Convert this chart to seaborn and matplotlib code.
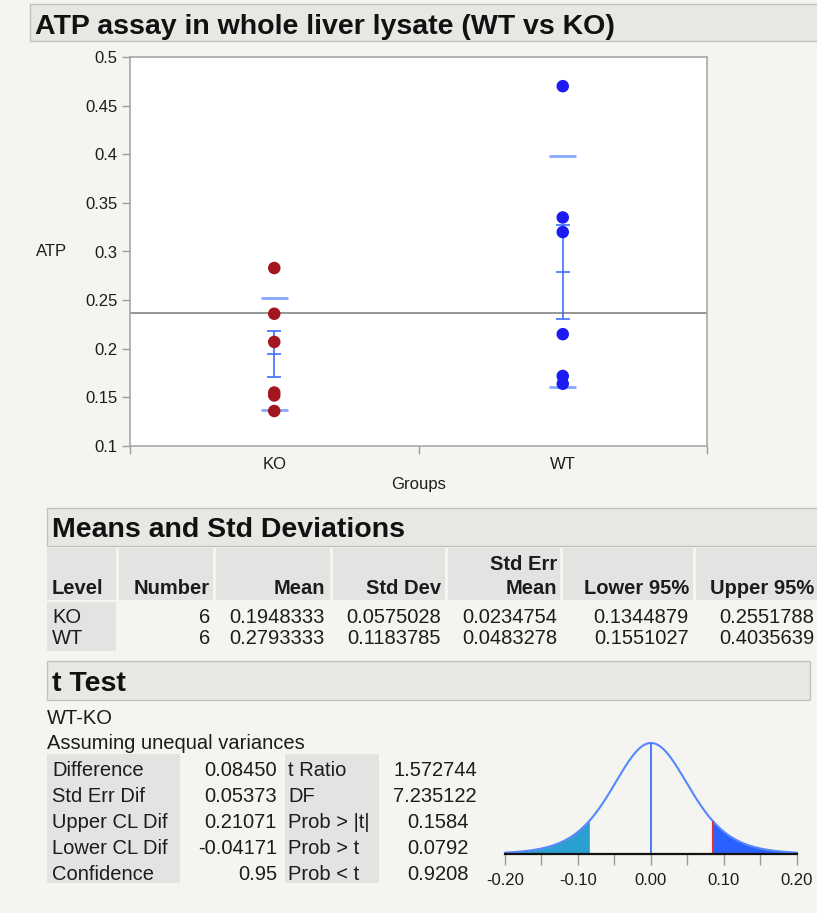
import math
import numpy as np
import pandas as pd
import matplotlib
matplotlib.use("Agg")
import matplotlib.pyplot as plt
from matplotlib.patches import Rectangle
from matplotlib.ticker import FixedLocator, NullFormatter
import seaborn as sns

# ---- data -------------------------------------------------------------
groups = ["KO", "WT"]
ko_atp = [0.283, 0.236, 0.207, 0.155, 0.152, 0.136]
wt_atp = [0.470, 0.335, 0.320, 0.215, 0.172, 0.164]

# summary table (Means and Std Deviations)
n_obs = [6, 6]
mean_vals = [0.1948333, 0.2793333]
sd_vals = [0.0575028, 0.1183785]
se_vals = [0.0234754, 0.0483278]
lower95 = [0.1344879, 0.1551027]
upper95 = [0.2551788, 0.4035639]

# t test (WT-KO, unequal variances)
tt_left_labels = ["Difference", "Std Err Dif", "Upper CL Dif", "Lower CL Dif", "Confidence"]
tt_left_values = ["0.08450", "0.05373", "0.21071", "-0.04171", "0.95"]
tt_right_labels = ["t Ratio", "DF", "Prob > |t|", "Prob > t", "Prob < t"]
tt_right_values = ["1.572744", "7.235122", "0.1584", "0.0792", "0.9208"]
diff_est = 0.08450
diff_se = 0.05373
t_df = 7.235122

yticks = [0.1, 0.15, 0.2, 0.25, 0.3, 0.35, 0.4, 0.45, 0.5]
dist_ticks_major = [-0.20, -0.10, 0.00, 0.10, 0.20]
dist_ticks_minor = [-0.15, -0.05, 0.05, 0.15]

# ---- style ------------------------------------------------------------
sns.set_style("white")
plt.rcParams["font.family"] = ["Liberation Sans", "DejaVu Sans"]
plt.rcParams["axes.unicode_minus"] = False

BG = "#f4f4f0"
BAR = "#e7e7e3"
BAR_EDGE = "#c2c2be"
CELL = "#e3e3e1"
TXT = "#1c1c1c"
KO_COL = "#a3151f"
WT_COL = "#1c1cf2"
ERR_COL = "#3f6dff"
SD_COL = "#86a8ff"

W, H = 817, 913
fig = plt.figure(figsize=(W / 100, H / 100), dpi=100, facecolor=BG)


def rect(x0, y0, x1, y1, fc, ec="none", lw=1.0):
    fig.patches.append(Rectangle((x0 / W, 1 - y1 / H), (x1 - x0) / W, (y1 - y0) / H,
                                 transform=fig.transFigure, facecolor=fc,
                                 edgecolor=ec, linewidth=lw, zorder=0))


def put(x, y, s, ha="left", size=14.5, weight="normal", color=TXT):
    fig.text(x / W, 1 - y / H, s, ha=ha, va="baseline", fontsize=size,
             fontweight=weight, color=color)


# ---- title bar --------------------------------------------------------
rect(30, 4, 830, 41, BAR, BAR_EDGE)
put(35, 34, "ATP assay in whole liver lysate (WT vs KO)", size=20.5, weight="bold", color="#111111")

# ---- one-way plot -----------------------------------------------------
df = pd.DataFrame({
    "group": ["KO"] * len(ko_atp) + ["WT"] * len(wt_atp),
    "atp": ko_atp + wt_atp,
})

ax_l, ax_r, ax_t, ax_b = 130, 707, 57, 446
ax = fig.add_axes([ax_l / W, 1 - ax_b / H, (ax_r - ax_l) / W, (ax_b - ax_t) / H])
ax.set_facecolor("white")

# grand mean
ax.axhline(df["atp"].mean(), color="#8e8e8e", lw=1.3, zorder=1)

pos = np.arange(len(groups))
# mean +/- 1 std dev
half = 0.047
ax.hlines(np.array(mean_vals) + np.array(sd_vals), pos - half, pos + half,
          color=SD_COL, lw=2.0, zorder=2)
ax.hlines(np.array(mean_vals) - np.array(sd_vals), pos - half, pos + half,
          color=SD_COL, lw=2.0, zorder=2)
# mean +/- 1 std err
ax.errorbar(pos, mean_vals, yerr=se_vals, fmt="none", ecolor=ERR_COL,
            elinewidth=1.2, capsize=5, capthick=1.2, zorder=3)
ax.plot(pos, mean_vals, ls="none", marker="_", markersize=10, mew=1.2,
        color=ERR_COL, zorder=3)

sns.stripplot(data=df, x="group", y="atp", hue="group", order=groups,
              hue_order=groups, palette=[KO_COL, WT_COL], jitter=False,
              size=9, linewidth=0, legend=False, ax=ax, zorder=4)

ax.set_xlim(-0.5, len(groups) - 0.5)
ax.set_ylim(0.1, 0.5)
ax.set_yticks(yticks)
ax.set_yticklabels([f"{v:g}" for v in yticks])
ax.set_xticks(pos)
ax.set_xticklabels(groups)
ax.xaxis.set_minor_locator(FixedLocator([-0.5, 0.5, 1.5]))
ax.tick_params(axis="y", direction="out", length=6, width=1, color="#9a9a9a",
               labelsize=12, labelcolor=TXT, pad=3, left=True)
ax.tick_params(axis="x", which="major", length=0, labelsize=12, labelcolor=TXT, pad=8)
ax.tick_params(axis="x", which="minor", direction="out", length=6, width=1,
               color="#9a9a9a", bottom=True)
for sp in ax.spines.values():
    sp.set_visible(True)
    sp.set_color("#a8a8a8")
    sp.set_linewidth(1.2)

ax.set_ylabel("ATP", rotation=0, fontsize=12, color=TXT, ha="center", va="center")
ax.yaxis.set_label_coords((52 - ax_l) / (ax_r - ax_l), (ax_b - 252) / (ax_b - ax_t))
ax.set_xlabel("Groups", fontsize=12, color=TXT, ha="center", va="center")
ax.xaxis.set_label_coords(0.5, (ax_b - 484) / (ax_b - ax_t))

# ---- Means and Std Deviations ----------------------------------------
rect(47, 508, 830, 546, BAR, BAR_EDGE)
put(52, 537, "Means and Std Deviations", size=20.5, weight="bold", color="#111111")

col_edges = [(47, 116), (119, 213), (216, 330), (333, 445), (448, 560), (563, 693), (696, 830)]
for x0, x1 in col_edges:
    rect(x0, 548, x1, 600, CELL)
rect(47, 602, 116, 651, CELL)

hdr_y = 594
put(52, hdr_y, "Level", weight="bold")
put(210, hdr_y, "Number", ha="right", weight="bold")
put(325, hdr_y, "Mean", ha="right", weight="bold")
put(441, hdr_y, "Std Dev", ha="right", weight="bold")
put(557, 570, "Std Err", ha="right", weight="bold")
put(557, hdr_y, "Mean", ha="right", weight="bold")
put(689, hdr_y, "Lower 95%", ha="right", weight="bold")
put(814, hdr_y, "Upper 95%", ha="right", weight="bold")

row_y = [623, 644]
for i, g in enumerate(groups):
    y = row_y[i]
    put(52, y, g)
    put(210, y, f"{n_obs[i]}", ha="right")
    put(325, y, f"{mean_vals[i]:.7f}", ha="right")
    put(441, y, f"{sd_vals[i]:.7f}", ha="right")
    put(557, y, f"{se_vals[i]:.7f}", ha="right")
    put(689, y, f"{lower95[i]:.7f}", ha="right")
    put(814, y, f"{upper95[i]:.7f}", ha="right")

# ---- t Test -------------------------------------------------------------
rect(47, 661, 810, 700, BAR, BAR_EDGE)
put(52, 691, "t Test", size=20.5, weight="bold", color="#111111")
put(47, 724, "WT-KO")
put(47, 749, "Assuming unequal variances")

rect(47, 754, 180, 883, CELL)
rect(285, 754, 379, 883, CELL)
tt_y = [776, 802, 828, 854, 880]
for i in range(5):
    y = tt_y[i]
    put(52, y, tt_left_labels[i])
    put(277, y, tt_left_values[i], ha="right")
    put(288, y, tt_right_labels[i])
    put(477 if len(tt_right_values[i]) > 6 else 469, y, tt_right_values[i], ha="right")

# ---- t distribution of the difference --------------------------------
dx0, dx1, dtop, dbase = 505, 797, 743, 854
ax2 = fig.add_axes([dx0 / W, 1 - dbase / H, (dx1 - dx0) / W, (dbase - dtop) / H])
ax2.set_facecolor("none")

coef = math.gamma((t_df + 1) / 2) / (math.sqrt(t_df * math.pi) * math.gamma(t_df / 2))


def tdens(x):
    return coef * (1 + (x / diff_se) ** 2 / t_df) ** (-(t_df + 1) / 2) / diff_se


xs = np.linspace(-0.2, 0.2, 801)
ys = tdens(xs)
left = xs <= -diff_est
right = xs >= diff_est
ax2.fill_between(xs[left], 0, ys[left], color="#2b9fcf", lw=0)
ax2.fill_between(xs[right], 0, ys[right], color="#2a60ff", lw=0)
ax2.plot(xs, ys, color="#5587ff", lw=1.5, clip_on=False)
ax2.vlines(0, 0, tdens(0.0), color="#3b6cff", lw=1.3)
ax2.vlines(diff_est, 0, tdens(diff_est), color="#e5303a", lw=1.5)

ax2.set_xlim(-0.2, 0.2)
ax2.set_ylim(0, tdens(0.0))
for name, sp in ax2.spines.items():
    sp.set_visible(name == "bottom")
ax2.spines["bottom"].set_color("#111111")
ax2.spines["bottom"].set_linewidth(1.6)
ax2.set_yticks([])
ax2.set_xticks(dist_ticks_major)
ax2.set_xticklabels([f"{v:.2f}" for v in dist_ticks_major])
ax2.xaxis.set_minor_locator(FixedLocator(dist_ticks_minor))
ax2.xaxis.set_minor_formatter(NullFormatter())
ax2.tick_params(axis="x", which="both", direction="out", length=8, width=1,
                color="#9a9a9a", labelsize=12, labelcolor=TXT, pad=6, bottom=True)

fig.savefig("out.png", dpi=100, facecolor=BG)
